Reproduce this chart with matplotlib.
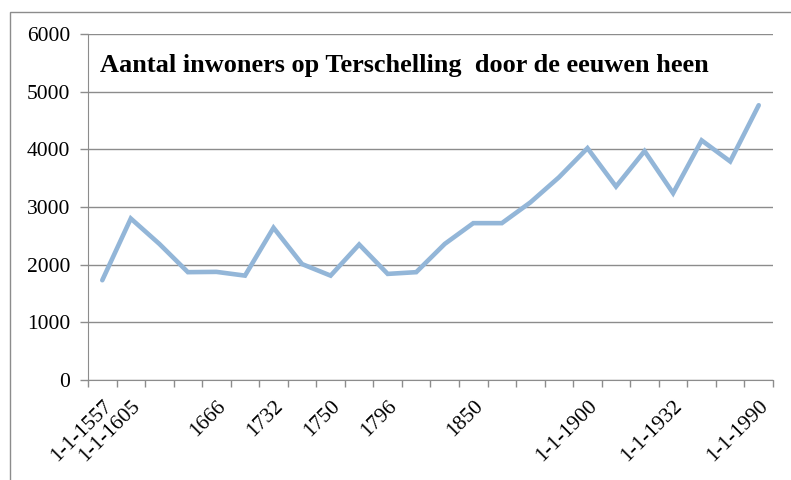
import matplotlib.pyplot as plt
from matplotlib.patches import Rectangle

# Data
labels = ['1-1-1557', '1-1-1605', '', '', '1666', '', '1732', '', '1750', '', '1796', '', '',
          '1850', '', '', '', '1-1-1900', '', '', '1-1-1932', '', '', '1-1-1990']
inwoners = [1730, 2800, 2360, 1870, 1875, 1810, 2640, 2010, 1810, 2350, 1840, 1870, 2360,
            2720, 2720, 3080, 3515, 4020, 3355, 3970, 3240, 4155, 3790, 4765]

plt.rcParams['font.family'] = ['Liberation Serif', 'DejaVu Serif']

fig = plt.figure(figsize=(7.91, 4.80), dpi=100)
ax = fig.add_axes([88 / 791, 1 - 380 / 480, (773 - 88) / 791, (380 - 34) / 480])

# chart area border (right/bottom fall outside the picture)
fig.patches.append(Rectangle((10 / 791, -0.1), 1.2, 1 - 12 / 480 + 0.1,
                             transform=fig.transFigure, fill=False,
                             edgecolor='#8c8c8c', linewidth=1))

x = range(len(inwoners))
ax.plot(x, inwoners, color='#93b6d8', linewidth=3.3, solid_capstyle='round',
        solid_joinstyle='miter')

ax.set_xlim(-0.5, len(inwoners) - 0.5)
ax.set_ylim(0, 6000)
ax.set_yticks(range(0, 6001, 1000))
ax.yaxis.grid(True, color='#8c8c8c', linewidth=1)
ax.set_axisbelow(True)

ax.set_xticks([i - 0.5 for i in range(len(inwoners) + 1)], minor=False)
ax.set_xticklabels([])
ax.set_xticks(list(x), minor=True)
ax.set_xticklabels(labels, minor=True, rotation=45, ha='right', va='top',
                   rotation_mode='anchor', fontsize=15.5)
ax.tick_params(axis='x', which='minor', length=0, pad=12)
ax.tick_params(axis='x', which='major', length=5, color='#8c8c8c', width=1)
ax.tick_params(axis='y', length=6, color='#8c8c8c', width=1, labelsize=15.5, pad=7)

for side in ['top', 'right']:
    ax.spines[side].set_visible(False)
for side in ['left', 'bottom']:
    ax.spines[side].set_color('#8c8c8c')

ax.text(0.018, 0.89, 'Aantal inwoners op Terschelling  door de eeuwen heen',
        transform=ax.transAxes, fontsize=18.9, fontweight='bold', va='baseline')

fig.savefig('out.png', dpi=100)
